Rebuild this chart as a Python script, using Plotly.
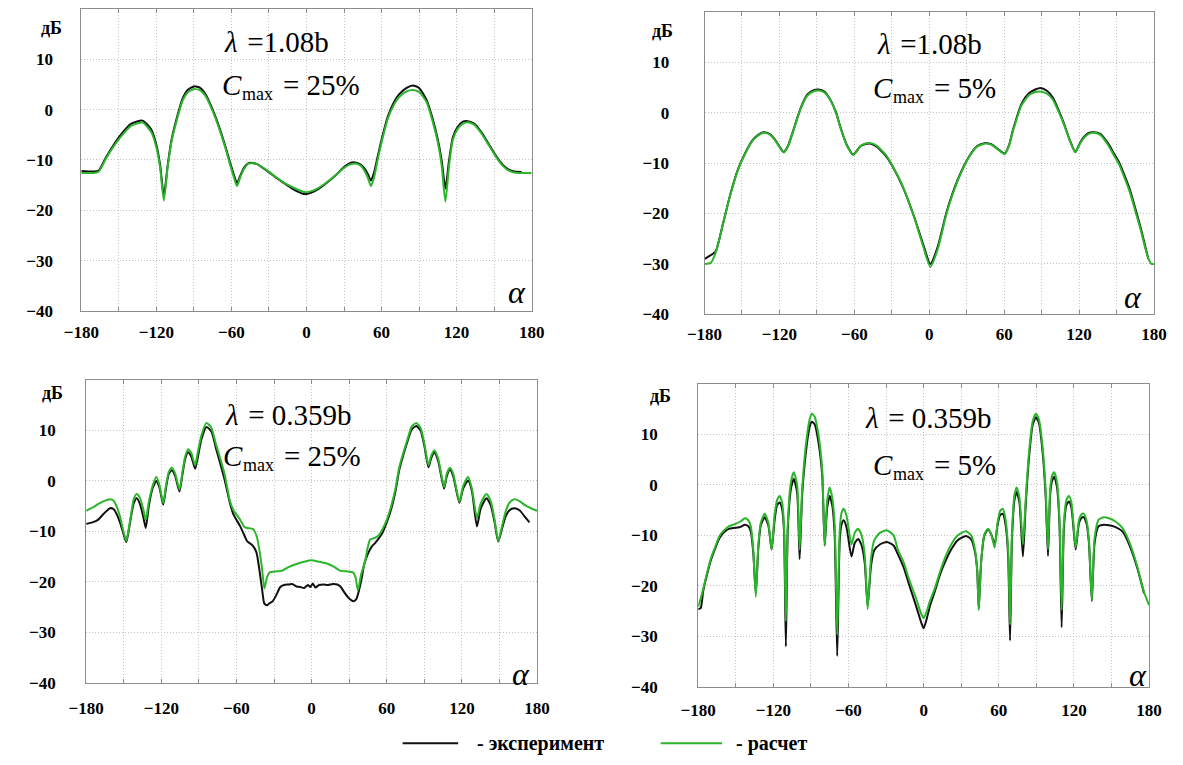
import plotly.graph_objects as go

W, H = 1183, 765

# ---------------- data (angle in degrees, level in dB) ----------------
p1_calc_x = [-180, -170, -166, -160, -149, -140, -131, -124, -120, -117, -114, -111, -108, -104, -99, -95, -90, -85, -81, -76, -71, -65, -61, -58, -55.6, -53, -50, -46, -40, -32, -24, -18, -12, -7, -1.5, 4, 10, 17, 24, 30, 35, 39, 43, 46, 49, 51.5, 54, 57, 61, 65, 70, 74, 80, 85, 90, 96, 101, 105, 108, 111, 114, 117, 121, 125, 129, 134, 140, 146, 152, 157, 162, 166, 170, 180]
p1_calc_y = [-12.6, -12.6, -12.3, -9.6, -5.6, -3.2, -2.6, -4.5, -7.5, -11.5, -18.1, -11.5, -6.5, -2.4, 1.8, 3.4, 4.1, 3.8, 2.8, 0.3, -2.9, -7.5, -11.0, -13.5, -15.2, -13.5, -11.8, -10.7, -10.8, -12.0, -13.5, -14.5, -15.3, -15.9, -16.4, -16.2, -15.5, -14.3, -12.9, -11.6, -10.9, -10.7, -11.1, -12.0, -13.5, -15.2, -13.5, -9.8, -5.5, -1.8, 1.0, 2.5, 3.6, 3.9, 3.5, 1.5, -2.5, -6.5, -11.0, -18.3, -11.0, -6.0, -3.8, -2.8, -2.5, -3.0, -4.8, -7.2, -9.6, -11.2, -12.2, -12.5, -12.6, -12.6]
p1_exp_x = [-180, -170, -166, -160, -149, -140, -131, -124, -120, -117, -114, -111, -108, -104, -99, -95, -90, -85, -81, -76, -71, -65, -61, -58, -55.6, -53, -50, -46, -40, -32, -24, -18, -12, -7, -1.5, 4, 10, 17, 24, 30, 35, 39, 43, 46, 49, 51.5, 54, 57, 61, 65, 70, 74, 80, 85, 90, 96, 101, 105, 108, 111, 114, 117, 121, 125, 129, 134, 140, 146, 152, 157, 162, 166, 172]
p1_exp_y = [-12.2, -12.3, -12.1, -9.4, -5.2, -2.8, -2.2, -4.0, -7.0, -11.0, -17.2, -11.2, -6.2, -2.0, 2.2, 3.9, 4.6, 4.3, 3.2, 0.6, -2.6, -7.2, -10.6, -13.0, -14.6, -13.2, -11.6, -10.6, -10.8, -12.1, -13.6, -14.6, -15.6, -16.3, -16.8, -16.5, -15.7, -14.4, -12.9, -11.4, -10.6, -10.5, -10.9, -11.6, -12.8, -14.1, -12.5, -9.2, -5.0, -1.4, 1.5, 3.0, 4.3, 4.8, 4.3, 1.9, -2.0, -6.0, -10.0, -15.7, -10.0, -5.5, -3.4, -2.4, -2.3, -2.8, -4.6, -7.0, -9.4, -11.0, -12.0, -12.3, -12.4]

p2_calc_x = [-180, -175, -171, -165, -159, -153, -147, -141.6, -137, -132.8, -128, -124, -120, -116.7, -113, -109, -103, -97.6, -92, -88.7, -84, -80, -75, -71, -66, -60.8, -55, -51, -47.6, -43, -38.8, -34, -30, -21, -12.3, -5, 0.9, 6.8, 14, 23, 31.7, 38, 45, 50, 55, 60.5, 64, 67, 74, 80, 85, 89, 94, 99, 104, 108, 113, 117, 120, 123, 127, 131.6, 137, 143, 148, 152, 157, 161, 166, 170, 173, 175.7, 178, 180]
p2_calc_y = [-30.0, -29.8, -27.7, -21.9, -16.0, -11.2, -7.9, -5.6, -4.5, -4.0, -4.3, -5.3, -6.8, -7.9, -6.6, -3.7, 0.8, 3.4, 4.3, 4.4, 4.0, 2.8, 0.2, -3.1, -6.5, -8.4, -6.6, -6.1, -6.0, -6.4, -7.3, -8.6, -10.3, -14.7, -20.6, -26.4, -30.6, -27.1, -19.9, -13.4, -8.9, -6.8, -6.1, -6.4, -7.3, -8.2, -6.5, -3.7, 1.5, 3.5, 4.1, 4.2, 3.8, 2.6, 0.0, -2.4, -5.8, -7.9, -6.5, -5.3, -4.3, -4.0, -4.4, -6.3, -8.5, -10.2, -13.3, -16.0, -20.3, -23.8, -26.8, -29.0, -30.0, -30.0]
p2_exp_x = [-180, -174, -171, -165, -159, -153, -147, -141.6, -137, -132.8, -128, -124, -120, -116.7, -113, -109, -103, -97.6, -92, -88.7, -84, -80, -75, -71, -66, -60.8, -55, -51, -47.6, -43, -38.8, -34, -30, -21, -12.3, -5, 0.9, 6.8, 14, 23, 31.7, 38, 45, 50, 55, 60.5, 64, 67, 74, 80, 85, 89, 94, 99, 104, 108, 113, 117, 120, 123, 127, 131.6, 137, 143, 148, 152, 157, 161, 166, 170, 173, 175.5]
p2_exp_y = [-29.0, -28.1, -27.5, -21.8, -15.9, -11.1, -7.8, -5.5, -4.4, -3.9, -4.2, -5.2, -6.7, -7.8, -6.5, -3.6, 0.9, 3.6, 4.5, 4.6, 4.2, 2.9, 0.3, -3.0, -6.4, -8.3, -6.6, -6.2, -6.1, -6.6, -7.5, -8.8, -10.4, -14.8, -20.5, -26.0, -30.0, -26.6, -19.6, -13.2, -8.8, -6.7, -6.0, -6.3, -7.2, -8.1, -6.4, -3.5, 1.8, 3.9, 4.6, 4.9, 4.4, 3.0, 0.3, -2.2, -5.7, -7.8, -6.4, -5.1, -4.1, -3.9, -4.2, -6.0, -8.1, -9.8, -12.8, -15.5, -19.8, -23.4, -26.5, -29.0]

p3_calc_x = [-180, -175, -170.6, -166, -161, -158, -155.6, -153, -151, -148, -146, -144, -142, -139.6, -137, -134.5, -132.4, -130, -127, -124, -121.5, -118.5, -116, -114, -111.6, -109, -105.5, -103, -101, -98.6, -96, -93, -91, -88, -84, -80, -76.4, -73, -69.5, -65.4, -62.6, -57, -54, -51.5, -47, -44, -41.8, -39.5, -37.7, -35.5, -33.5, -28, -23.8, -18, -12.7, -6, 0, 6, 12.7, 18, 23, 28, 33, 35, 37, 39.5, 42.6, 44.5, 46.8, 51, 53.5, 56.5, 60, 63.4, 67, 70, 74, 77, 80, 83.6, 87, 90, 93.3, 95.5, 98, 101, 105.8, 108, 110.5, 113, 118, 121, 125, 128, 132, 135, 139.6, 143, 146, 149, 152, 155, 158, 161.7, 166, 171, 176, 180]
p3_calc_y = [-5.9, -5.3, -4.6, -4.0, -3.6, -3.9, -5.1, -7.0, -9.2, -11.9, -9.5, -6.4, -3.6, -2.6, -3.4, -5.5, -7.7, -4.2, -1.0, 0.8, -0.8, -4.4, -0.5, 1.8, 2.6, 1.5, -1.7, 2.0, 4.8, 6.3, 5.5, 3.1, 5.5, 9.0, 11.5, 10.5, 7.3, 4.5, 1.4, -3.8, -5.7, -7.7, -9.0, -9.3, -9.5, -10.8, -13.5, -17.5, -21.3, -19.0, -18.1, -17.9, -17.8, -17.0, -16.5, -16.0, -15.7, -16.0, -16.4, -17.0, -17.8, -17.9, -18.1, -19.0, -21.7, -18.5, -16.1, -13.5, -11.6, -11.2, -10.8, -9.6, -7.7, -5.1, -1.5, 2.7, 6.2, 8.6, 10.8, 11.5, 10.5, 7.5, 3.1, 5.0, 6.1, 4.5, -1.2, 1.5, 2.6, 1.5, -4.1, -1.0, 0.8, -1.5, -7.3, -4.5, -2.6, -4.0, -7.5, -11.9, -9.0, -6.0, -4.3, -3.6, -4.0, -4.9, -5.5, -5.9]
p3_exp_x = [-180, -175, -170.6, -166, -161, -158, -155.6, -153, -151, -148, -146, -144, -142, -139.6, -137, -134.5, -132.4, -130, -127, -124, -121.5, -118.5, -116, -114, -111.6, -109, -105.5, -103, -101, -98.6, -96, -93, -91, -88, -84, -80, -76.4, -73, -69.5, -65.4, -62.6, -57, -54, -51.5, -47, -44, -41.8, -39.5, -37.7, -35.5, -33.5, -31, -28, -25, -22, -18, -15.5, -12, -9, -6, -3, -1, 1, 3, 6, 9.4, 13, 17, 20.5, 23, 26, 29, 31.6, 33.5, 35.7, 38, 39.9, 42, 45.4, 48, 51, 56.5, 60, 63.4, 67, 70, 74, 77, 80, 83.6, 87, 90, 93.3, 95.5, 98, 101, 105.8, 108, 110.5, 113, 118, 121, 125, 128, 132, 135, 139.6, 143, 146, 149, 152, 155, 158, 161.7, 166, 170, 174]
p3_exp_y = [-8.5, -8.2, -7.7, -6.5, -5.4, -5.6, -6.6, -8.2, -9.8, -12.1, -9.8, -6.8, -4.4, -3.4, -4.6, -7.0, -9.3, -5.0, -1.5, 0.0, -1.3, -4.7, -1.0, 1.4, 2.1, 1.0, -2.1, 1.5, 4.3, 5.7, 4.8, 2.4, 4.5, 8.2, 10.7, 9.8, 6.5, 3.5, 0.3, -4.2, -6.5, -9.0, -10.6, -11.9, -12.8, -14.2, -17.4, -21.5, -24.3, -24.6, -24.2, -23.8, -22.5, -21.0, -20.6, -20.5, -20.4, -20.9, -21.0, -21.2, -20.6, -21.0, -20.3, -21.1, -20.6, -20.5, -20.6, -20.4, -20.5, -20.9, -22.0, -23.0, -23.6, -23.8, -23.4, -21.5, -19.4, -16.5, -14.2, -13.0, -12.2, -10.3, -8.2, -5.7, -2.0, 2.2, 5.8, 8.2, 10.2, 10.9, 10.0, 7.0, 2.7, 4.5, 5.7, 4.0, -1.5, 1.0, 2.2, 1.0, -4.3, -1.5, 0.1, -2.0, -9.0, -5.5, -3.4, -4.8, -8.0, -12.0, -9.5, -7.0, -5.8, -5.4, -5.8, -7.0, -8.2]

p4_calc_x = [-180, -178, -176, -173, -170, -166, -163, -159, -155.6, -150, -146, -142.7, -140, -138, -136, -134, -132, -130, -127, -124, -121.4, -119, -117, -115, -113, -111.5, -110, -108.5, -106, -103.7, -101, -99, -97, -94, -91, -89.3, -87, -84, -81, -79, -77, -75, -73, -71, -69, -67, -65.5, -63.8, -61.5, -57.6, -55, -52.3, -49.5, -47, -44.7, -42, -39.5, -35, -29.4, -24, -20.6, -16, -11.8, -6, -2, 0, 2.5, 5, 8.8, 13, 17.6, 22, 27, 33.8, 38, 41, 42.8, 44, 46, 48.5, 51.4, 54, 56.7, 59, 61, 63.2, 65.5, 67.5, 69, 70.5, 72.5, 74.3, 76.5, 79.3, 81.5, 84, 87, 89.6, 92, 95, 97.5, 99.3, 101, 102.5, 104.3, 106.5, 108.5, 110.2, 112, 114, 116, 118, 121.4, 124, 125.8, 127.8, 130, 132, 134.3, 136.5, 139.6, 144, 148, 152.8, 158.7, 164.5, 170.4, 176, 180]
p4_calc_y = [-24.1, -22.5, -20.6, -17.5, -14.7, -12.0, -10.1, -8.9, -8.2, -7.7, -7.2, -6.6, -7.0, -8.2, -13.0, -22.2, -12.0, -7.5, -5.7, -7.5, -12.8, -6.0, -3.0, -2.2, -3.5, -8.0, -27.0, -8.0, 0.5, 2.5, 0.0, -12.8, -1.0, 8.0, 13.0, 14.1, 13.5, 10.0, 3.0, -12.0, -3.0, -0.5, -2.5, -8.0, -29.7, -9.0, -5.5, -4.7, -6.2, -11.8, -9.5, -8.7, -10.0, -14.0, -24.6, -14.5, -11.0, -9.5, -9.0, -10.0, -12.8, -15.3, -18.6, -22.5, -25.5, -26.4, -25.0, -23.0, -20.6, -17.3, -14.1, -11.8, -10.0, -9.2, -10.0, -12.8, -17.0, -24.8, -15.0, -9.8, -8.7, -9.8, -12.4, -7.5, -5.2, -4.7, -7.0, -13.0, -27.7, -10.0, -2.0, -0.5, -2.5, -11.8, -3.0, 6.0, 12.5, 14.1, 13.0, 7.5, -1.5, -12.8, -1.0, 1.8, 2.5, 0.5, -7.0, -24.8, -7.5, -3.0, -2.2, -3.5, -12.4, -7.0, -5.9, -5.7, -7.0, -11.0, -22.8, -10.5, -6.9, -6.4, -6.6, -7.2, -8.5, -11.5, -16.0, -21.2, -23.8]
p4_exp_x = [-180, -178, -176, -173, -170, -166, -163, -159, -155.6, -150, -146, -142.7, -140, -138, -136, -134, -132, -130, -127, -124, -121.4, -119, -117, -115, -113, -111.5, -110, -108.5, -106, -103.7, -101, -99, -97, -94, -91, -89.3, -87, -84, -81, -79, -77, -75, -73, -71, -69, -67, -65.5, -63.8, -61.5, -57.6, -55, -52.3, -49.5, -47, -44.7, -42, -39.5, -35, -29.4, -24, -20.6, -16, -11.8, -6, -2, 0, 2.5, 5, 8.8, 13, 17.6, 22, 27, 33.8, 38, 41, 42.8, 44, 46, 48.5, 51.4, 54, 56.7, 59, 61, 63.2, 65.5, 67.5, 69, 70.5, 72.5, 74.3, 76.5, 79.3, 81.5, 84, 87, 89.6, 92, 95, 97.5, 99.3, 101, 102.5, 104.3, 106.5, 108.5, 110.2, 112, 114, 116, 118, 121.4, 124, 125.8, 127.8, 130, 132, 134.3, 136.5, 139.6, 144, 148, 152.8, 158.7, 164.5, 170.4, 176]
p4_exp_y = [-24.6, -24.4, -21.0, -17.8, -15.0, -12.3, -10.5, -9.3, -8.7, -8.5, -8.3, -7.9, -8.2, -9.2, -13.5, -21.5, -12.5, -8.0, -6.4, -8.0, -12.8, -7.0, -4.0, -3.5, -4.8, -9.0, -32.0, -9.0, -0.8, 1.2, -1.5, -14.7, -2.0, 6.5, 11.5, 12.5, 12.0, 8.5, 2.0, -12.0, -4.5, -2.2, -4.0, -10.0, -33.9, -11.0, -7.8, -7.0, -8.5, -14.2, -11.5, -10.7, -12.0, -15.5, -24.0, -16.0, -13.0, -11.8, -11.3, -12.0, -13.7, -16.3, -19.6, -24.0, -27.2, -28.4, -26.5, -24.0, -21.2, -17.8, -15.0, -12.8, -11.0, -10.1, -10.8, -13.3, -17.0, -24.5, -15.0, -10.0, -8.8, -9.8, -11.8, -8.0, -6.0, -5.7, -8.0, -14.0, -30.8, -11.0, -3.0, -1.4, -3.5, -14.2, -4.0, 5.0, 11.8, 13.4, 12.3, 6.5, -2.5, -14.1, -2.0, 0.8, 1.6, -0.5, -8.0, -28.2, -8.5, -4.0, -3.3, -4.5, -12.8, -7.6, -6.6, -6.4, -7.6, -11.5, -23.0, -11.5, -8.2, -7.9, -8.0, -8.3, -9.2, -12.0, -16.3, -21.5]

x_ticks = [-180, -120, -60, 0, 60, 120, 180]
x_minor = [-150, -90, -30, 30, 90, 150]
y_ticks = [-40, -30, -20, -10, 0, 10]
series_names = ["- эксперимент", "- расчет"]
lam_texts = [" =1.08b", " =1.08b", " = 0.359b", " = 0.359b"]
cmax_texts = ["= 25%", "= 5%", "= 25%", "= 5%"]

EXP_COLOR = "#111111"
CALC_COLOR = "#2bb52b"
GRID = "#c4c4c4"
FRAME = "#8c8c8c"
SERIF = "Times New Roman"
GRID_DASH = "1px,2px"

# panel boxes in pixels: left, right, top, bottom ; y-label standoff ; x-label standoff
boxes = [
    (65, 527.5, 9, 315, 24, 6),
    (705, 1166.5, 12, 318.5, 31, 4),
    (70, 533, 385, 692, 26, 10),
    (698.5, 1161.5, 389, 696, 36, 8),
]

def px(x):
    return x / W

def py(y):
    return 1 - y / H

fig = go.Figure()
data = [
    (p1_exp_x, p1_exp_y, p1_calc_x, p1_calc_y),
    (p2_exp_x, p2_exp_y, p2_calc_x, p2_calc_y),
    (p3_exp_x, p3_exp_y, p3_calc_x, p3_calc_y),
    (p4_exp_x, p4_exp_y, p4_calc_x, p4_calc_y),
]

tickfont = dict(family=SERIF, size=17, color="black", weight="bold")

for i, (ex, ey, cx, cy) in enumerate(data):
    n = "" if i == 0 else str(i + 1)
    xa, ya = "x" + n, "y" + n
    fig.add_trace(go.Scatter(x=ex, y=ey, xaxis=xa, yaxis=ya, mode="lines", name=series_names[0],
                             line=dict(color=EXP_COLOR, width=2, shape="spline", smoothing=0.6),
                             showlegend=False))
    fig.add_trace(go.Scatter(x=cx, y=cy, xaxis=xa, yaxis=ya, mode="lines", name=series_names[1],
                             line=dict(color=CALC_COLOR, width=2, shape="spline", smoothing=0.6),
                             showlegend=False))
    l, r, t, b, ystand, xstand = boxes[i]
    fig.layout["xaxis" + n] = dict(
        domain=[px(l), px(r)], anchor=ya, range=[-180, 180],
        tickmode="array", tickvals=x_ticks, ticks="inside", ticklen=4, tickcolor=FRAME,
        showgrid=True, gridcolor=GRID, griddash=GRID_DASH, gridwidth=1,
        minor=dict(tickmode="array", tickvals=x_minor, ticks="inside", ticklen=4, tickcolor=FRAME,
                   showgrid=True, gridcolor=GRID, griddash=GRID_DASH, gridwidth=1),
        showline=True, mirror="ticks", linecolor=FRAME, linewidth=1, zeroline=False,
        tickfont=tickfont, ticklabelstandoff=xstand, fixedrange=True,
    )
    fig.layout["yaxis" + n] = dict(
        domain=[py(b), py(t)], anchor=xa, range=[-40, 20],
        tickmode="array", tickvals=y_ticks, ticks="",
        showgrid=True, gridcolor=GRID, griddash=GRID_DASH, gridwidth=1,
        showline=True, mirror=True, linecolor=FRAME, linewidth=1, zeroline=False,
        tickfont=tickfont, ticklabelstandoff=ystand, fixedrange=True,
    )

# text annotations (paper pixel positions)
ann = []

def note(x, y, text, size, xanchor="center", italic=False, bold=False):
    f = dict(family=SERIF, size=size, color="black")
    if italic:
        f["style"] = "italic"
    if bold:
        f["weight"] = "bold"
    ann.append(dict(x=px(x), y=py(y), text=text, showarrow=False, xref="paper", yref="paper",
                    xanchor=xanchor, yanchor="middle", borderpad=0, font=f))

db_pos = [(34, 28), (662, 31), (35, 398), (660, 401)]
alpha_pos = [(512, 296), (1145, 301), (517, 683), (1150, 684)]
lam_join = [(227, 43), (898, 45), (228, 421), (885, 424)]   # where italic λ ends and the rest begins
c_join = [(231, 86), (900, 89), (232, 462), (900, 471)]     # where italic C ends and "max" begins
BIG = 29
for i in range(4):
    note(*db_pos[i], "дБ", 18, bold=True)
    note(*alpha_pos[i], "α", 32, italic=True)
    lx, ly = lam_join[i]
    note(lx, ly, "λ", BIG, xanchor="right", italic=True)
    note(lx, ly, lam_texts[i], BIG, xanchor="left")
    cxp, cyp = c_join[i]
    note(cxp, cyp, "C", BIG, xanchor="right", italic=True)
    note(cxp - 2, cyp + 9, "max", 18, xanchor="left")
    note(cxp + 40, cyp, cmax_texts[i], BIG, xanchor="left")

# legend
note(470, 753, series_names[0], 20, xanchor="left", bold=True)
note(736, 753, series_names[1], 20, xanchor="left", bold=True)
shapes = [
    dict(type="line", xref="paper", yref="paper", x0=px(395), x1=px(452), y0=py(753), y1=py(753),
         line=dict(color=EXP_COLOR, width=2)),
    dict(type="line", xref="paper", yref="paper", x0=px(660), x1=px(723), y0=py(753), y1=py(753),
         line=dict(color=CALC_COLOR, width=2)),
]

fig.update_layout(
    width=W, height=H, margin=dict(l=0, r=0, t=0, b=0),
    paper_bgcolor="white", plot_bgcolor="white",
    font=dict(family=SERIF),
    annotations=ann, shapes=shapes, showlegend=False,
)

fig.write_html("out.html")
